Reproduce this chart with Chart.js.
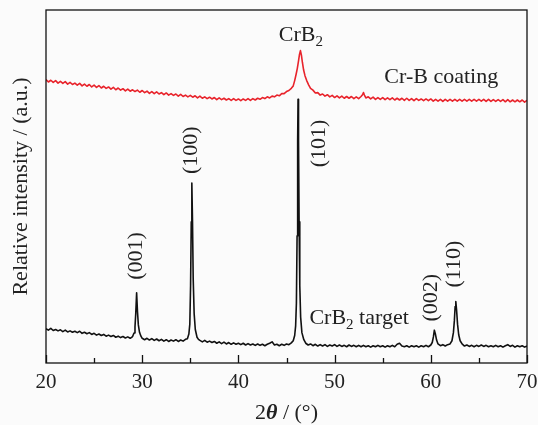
<!DOCTYPE html>
<html>
<head>
<meta charset="utf-8">
<script src="https://cdn.jsdelivr.net/npm/chart.js@4/dist/chart.umd.min.js"></script>
<style>
  body { margin: 0; background: #fbfbfb; }
  canvas { display: block; }
</style>
</head>
<body>
<canvas id="xrd" width="538" height="425"></canvas>
<script>
// CrB2 target (black) - 2theta and intensity
const targetAngle = [
  20,20.25,20.5,20.75,21,21.25,21.5,21.75,22,22.25,22.5,22.75,23,23.25,23.5,23.75,24,24.25,24.5,24.75,
  25,25.25,25.5,25.75,26,26.25,26.5,26.75,27,27.25,27.5,27.75,28,28.25,28.5,28.75,
  29.0,29.15,29.25,29.33,29.42,29.51,29.6,29.72,29.87,30.0,
  30.25,30.5,30.75,31,31.25,31.5,31.75,32,32.25,32.5,32.75,33,33.25,33.5,33.75,34,34.25,34.5,
  34.7,34.85,34.95,35.03,35.1,35.16,35.23,35.3,35.4,35.52,35.7,35.85,
  36,36.25,36.5,36.75,37,37.25,37.5,37.75,38,38.25,38.5,38.75,39,39.25,39.5,39.75,40,40.25,40.5,40.75,
  41,41.25,41.5,41.75,42,42.25,42.5,42.75,43,43.25,43.5,43.75,44,44.25,44.5,44.75,45,45.25,45.5,
  45.7,45.85,45.95,46.03,46.1,46.16,46.2,46.25,46.31,46.38,46.47,46.6,46.8,47.0,
  47.25,47.5,47.75,48,48.25,48.5,48.75,49,49.25,49.5,49.75,50,50.25,50.5,50.75,51,51.25,51.5,51.75,52,
  52.25,52.5,52.75,53,53.25,53.5,53.75,54,54.25,54.5,54.75,55,55.25,55.5,55.75,56,56.25,56.5,56.75,57,
  57.25,57.5,57.75,58,58.25,58.5,58.75,59,59.25,59.5,59.75,60,
  60.15,60.27,60.37,60.47,60.6,60.75,61.0,
  61.25,61.5,61.75,62.0,
  62.2,62.35,62.45,62.53,62.6,62.68,62.78,62.9,63.05,63.25,
  63.5,63.75,64,64.25,64.5,64.75,65,65.25,65.5,65.75,66,66.25,66.5,66.75,67,67.25,67.5,67.75,68,68.25,
  68.5,68.75,69,69.25,69.5,69.75,70
];
const targetIntensity = [
  9.7,9.3,9.8,9.2,9.5,9.1,9.4,8.9,9.3,8.8,9.1,8.7,9.0,8.6,9.0,8.4,8.7,8.3,8.6,8.1,
  8.4,7.9,8.2,7.8,8.1,7.6,7.9,7.5,7.8,7.3,7.6,7.2,7.5,7.1,7.4,7.0,
  7.5,8.5,10.2,14.0,19.9,14.5,10.8,8.7,7.6,7.0,
  6.6,7.0,6.5,6.9,6.4,6.8,6.3,6.7,6.2,6.6,6.1,6.5,6.2,6.6,6.1,6.5,6.2,6.7,
  6.9,8.2,11.0,22.0,40.0,51.0,40.0,24.0,14.0,9.5,7.3,6.7,
  6.4,6.0,6.4,5.9,6.2,5.8,6.1,5.6,6.0,5.5,5.9,5.4,5.8,5.3,5.7,5.3,5.6,5.2,5.6,5.1,
  5.5,5.1,5.4,5.0,5.4,5.0,5.3,4.9,5.3,5.6,6.0,5.1,5.3,4.9,5.3,5.0,5.4,5.2,5.7,
  6.3,7.8,10.5,17.0,36.0,63.0,74.7,63.0,40.0,22.0,13.0,8.6,6.6,5.6,
  5.1,5.4,4.9,5.3,4.8,5.2,4.8,5.2,4.7,5.1,4.8,5.2,4.7,5.1,4.7,5.0,4.6,5.1,4.7,5.0,
  4.6,5.0,4.6,5.0,4.6,4.9,4.5,4.9,4.6,5.0,4.6,4.9,4.5,4.9,4.6,5.0,4.6,5.3,5.6,4.8,
  4.6,4.9,4.5,4.9,4.6,4.9,4.5,4.9,4.6,5.0,4.6,5.1,
  5.8,7.4,9.3,8.3,6.5,5.4,4.9,
  5.2,4.8,5.2,5.4,
  6.3,8.6,12.0,16.0,17.4,15.0,11.0,8.0,6.3,5.4,
  4.8,5.1,4.7,5.0,4.6,5.0,4.7,5.1,4.7,5.0,4.6,4.9,4.6,5.0,4.6,4.9,4.5,4.9,5.2,4.7,
  5.0,4.5,4.9,4.6,4.9,4.5,4.8
];

// Cr-B coating (red)
const coatingAngle = [
  20,20.25,20.5,20.75,21,21.25,21.5,21.75,22,22.25,22.5,22.75,23,23.25,23.5,23.75,24,24.25,24.5,24.75,
  25,25.25,25.5,25.75,26,26.25,26.5,26.75,27,27.25,27.5,27.75,28,28.25,28.5,28.75,29,29.25,29.5,29.75,
  30,30.25,30.5,30.75,31,31.25,31.5,31.75,32,32.25,32.5,32.75,33,33.25,33.5,33.75,34,34.25,34.5,34.75,
  35,35.25,35.5,35.75,36,36.25,36.5,36.75,37,37.25,37.5,37.75,38,38.25,38.5,38.75,39,39.25,39.5,39.75,
  40,40.25,40.5,40.75,41,41.25,41.5,41.75,42,42.25,42.5,42.75,43,43.25,43.5,43.75,44,44.25,44.5,44.75,
  45,45.25,45.5,
  45.7,45.85,46.0,46.12,46.25,46.35,46.45,46.55,46.65,46.78,46.92,47.1,47.3,47.5,
  47.75,48,48.25,48.5,48.75,49,49.25,49.5,49.75,50,50.25,50.5,50.75,51,51.25,51.5,51.75,52,52.25,52.5,52.75,
  52.9,53.0,53.1,
  53.25,53.5,53.75,54,54.25,54.5,54.75,55,55.25,55.5,55.75,56,56.25,56.5,56.75,57,57.25,57.5,57.75,
  58,58.25,58.5,58.75,59,59.25,59.5,59.75,60,60.25,60.5,60.75,61,61.25,61.5,61.75,62,62.25,62.5,62.75,
  63,63.25,63.5,63.75,64,64.25,64.5,64.75,65,65.25,65.5,65.75,66,66.25,66.5,66.75,67,67.25,67.5,67.75,
  68,68.25,68.5,68.75,69,69.25,69.5,69.75,70
];
const coatingIntensity = [
  80.3,79.6,80.1,79.5, 80.0,79.3,79.8,79.2, 79.7,79.0,79.5,78.9, 79.3,78.7,79.2,78.5, 79.0,78.4,78.9,78.2,
  78.7,78.1,78.6,77.9, 78.4,77.8,78.2,77.6, 78.1,77.4,77.9,77.3, 77.7,77.1,77.6,77.0, 77.4,76.9,77.3,76.7,
  77.2,76.6,77.0,76.4, 76.9,76.3,76.8,76.2, 76.6,76.0,76.5,75.9, 76.3,75.8,76.2,75.6, 76.1,75.5,75.9,75.4,
  75.8,75.3,75.7,75.1, 75.6,75.0,75.4,74.9, 75.3,74.8,75.2,74.6, 75.1,74.6,75.0,74.5, 74.9,74.4,74.9,74.4,
  74.8,74.3,74.8,74.4, 74.9,74.4,74.9,74.5, 75.0,74.7,75.2,74.9, 75.4,75.1,75.6,75.4, 75.9,75.7,76.3,76.3,
  76.9,77.2,77.8,
  78.5,80.0,81.8,83.4,85.6,87.4,88.5,87.2,85.2,83.0,81.4,80.0,78.8,77.8,
  77.3,76.5,76.6,75.9,76.2,75.6,76.0,75.4,75.8,75.2,75.7,75.1,75.6,75.0,75.5,75.0,75.5,74.9,75.4,74.9,75.5,
  76.0,76.6,75.9,
  75.1,75.4,74.8, 75.3,74.7,75.2,74.7, 75.2,74.6,75.1,74.6, 75.1,74.5,75.0,74.5, 75.0,74.4,75.0,74.4,
  74.9,74.3,74.9,74.4, 74.8,74.3,74.8,74.3, 74.8,74.2,74.7,74.2, 74.7,74.1,74.7,74.2, 74.7,74.2,74.7,74.2,
  74.7,74.2,74.7,74.2, 74.7,74.2,74.7,74.2, 74.7,74.2,74.7,74.1, 74.7,74.1,74.6,74.1, 74.6,74.1,74.6,74.0,
  74.6,74.0,74.5,74.0, 74.5,74.0,74.5,73.9, 74.4
];

const majorTicks = [20, 30, 40, 50, 60, 70];
const minorTicks = [25, 35, 45, 55, 65];

// peak labels (rotated), placed in data coordinates
const peakNames = ['(001)', '(100)', '(101)', '(002)', '(110)'];
const peakNameAngle = [29.42, 35.1, 48.42, 60.05, 62.44];
const peakNameLevel = [30.3, 60.3, 62.2, 18.5, 28.0];

const SERIF = '"Liberation Serif", "Times New Roman", serif';

function richText(ctx, parts, x0, y0) {
  let cx = x0;
  parts.forEach(p => {
    ctx.font = p.font;
    ctx.fillText(p.t, cx, y0 + (p.dy || 0));
    cx += ctx.measureText(p.t).width;
  });
}
function richWidth(ctx, parts) {
  let w = 0;
  parts.forEach(p => { ctx.font = p.font; w += ctx.measureText(p.t).width; });
  return w;
}

const decor = {
  id: 'decor',
  afterDraw(chart) {
    const { ctx, chartArea: a, scales: { x, y } } = chart;
    ctx.save();
    ctx.strokeStyle = '#111';
    ctx.lineWidth = 1.3;
    ctx.strokeRect(a.left, a.top, a.right - a.left, a.bottom - a.top);
    ctx.beginPath();
    majorTicks.forEach(v => {
      const px = Math.round(x.getPixelForValue(v)) + 0.5;
      ctx.moveTo(px, a.bottom); ctx.lineTo(px, a.bottom - 8);
    });
    minorTicks.forEach(v => {
      const px = Math.round(x.getPixelForValue(v)) + 0.5;
      ctx.moveTo(px, a.bottom); ctx.lineTo(px, a.bottom - 5);
    });
    ctx.stroke();

    ctx.fillStyle = '#222';
    // rotated peak labels
    ctx.font = '22px ' + SERIF;
    ctx.textAlign = 'center';
    ctx.textBaseline = 'middle';
    peakNames.forEach((t, i) => {
      ctx.save();
      ctx.translate(x.getPixelForValue(peakNameAngle[i]), y.getPixelForValue(peakNameLevel[i]));
      ctx.rotate(-Math.PI / 2);
      ctx.fillText(t, 0, 0);
      ctx.restore();
    });

    // phase / sample labels
    ctx.textAlign = 'left';
    ctx.textBaseline = 'alphabetic';
    const big = '22px ' + SERIF, small = '15px ' + SERIF;
    richText(ctx, [{ t: 'CrB', font: big }, { t: '2', font: small, dy: 5 }],
      x.getPixelForValue(44.2), y.getPixelForValue(91.2));
    richText(ctx, [{ t: 'Cr-B coating', font: big }],
      x.getPixelForValue(55.17), y.getPixelForValue(79.4));
    richText(ctx, [{ t: 'CrB', font: big }, { t: '2', font: small, dy: 5 }, { t: ' target', font: big }],
      x.getPixelForValue(47.38), y.getPixelForValue(11.1));

    // x axis title
    const xt = [
      { t: '2', font: big },
      { t: 'θ', font: 'italic bold 22px ' + SERIF },
      { t: ' / (°)', font: big }
    ];
    const cx = (a.left + a.right) / 2;
    richText(ctx, xt, cx - richWidth(ctx, xt) / 2, 419);

    // y axis title
    ctx.save();
    ctx.translate(21, (a.top + a.bottom) / 2);
    ctx.rotate(-Math.PI / 2);
    ctx.font = big;
    ctx.textAlign = 'center';
    ctx.textBaseline = 'middle';
    ctx.fillText('Relative intensity / (a.u.)', 0, 0);
    ctx.restore();

    ctx.restore();
  }
};

const pts = (xs, ys) => xs.map((v, i) => ({ x: v, y: ys[i] }));

new Chart(document.getElementById('xrd'), {
  type: 'line',
  data: {
    datasets: [
      {
        label: 'CrB2 target',
        data: pts(targetAngle, targetIntensity),
        borderColor: '#111111',
        borderWidth: 1.6,
        borderJoinStyle: 'round',
        pointRadius: 0,
        tension: 0
      },
      {
        label: 'Cr-B coating',
        data: pts(coatingAngle, coatingIntensity),
        borderColor: '#e8232b',
        borderWidth: 1.6,
        borderJoinStyle: 'round',
        pointRadius: 0,
        tension: 0
      }
    ]
  },
  options: {
    responsive: false,
    animation: false,
    devicePixelRatio: 1,
    layout: { padding: { left: 46, right: 11, top: 10, bottom: 0 } },
    plugins: { legend: { display: false }, tooltip: { enabled: false } },
    scales: {
      x: {
        type: 'linear',
        min: 20,
        max: 70,
        grid: { display: false, drawTicks: false },
        border: { display: false },
        ticks: {
          stepSize: 10,
          autoSkip: false,
          maxRotation: 0,
          padding: 7,
          color: '#222',
          font: { family: SERIF, size: 21 }
        },
        afterFit: s => { s.height = 62; s.paddingLeft = 0; s.paddingRight = 0; }
      },
      y: {
        display: false,
        min: 0,
        max: 100
      }
    }
  },
  plugins: [decor]
});
</script>
</body>
</html>
